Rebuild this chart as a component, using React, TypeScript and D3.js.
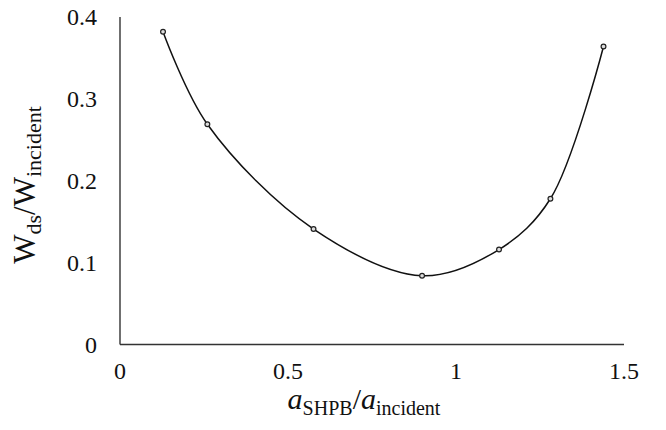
import React from "react";
import * as d3 from "d3";

// Ratio of SHPB to incident radius vs. normalized dissipated energy
const ratioValues = [0.128, 0.26, 0.576, 0.899, 1.128, 1.281, 1.439];
const energyValues = [0.382, 0.269, 0.141, 0.084, 0.116, 0.178, 0.364];
const xTicks = [0, 0.5, 1, 1.5];
const yTicks = [0, 0.1, 0.2, 0.3, 0.4];

const W = 666;
const H = 430;
const FONT = "'Times New Roman', Times, 'Liberation Serif', 'DejaVu Serif', serif";

export default function App() {
  const x = d3.scaleLinear().domain([0, 1.5]).range([120, 624]);
  const y = d3.scaleLinear().domain([0, 0.4]).range([344.5, 17]);

  const pts = ratioValues.map((v, i) => [v, energyValues[i]] as [number, number]);
  const line = d3
    .line<[number, number]>()
    .x((d) => x(d[0]))
    .y((d) => y(d[1]))
    .curve(d3.curveCatmullRom.alpha(0.5));

  return (
    <svg
      width={W}
      height={H}
      style={{ position: "absolute", left: 0, top: 0, background: "#fff", fontFamily: FONT }}
    >
      {/* axes */}
      <line x1={x(0)} x2={x(1.5)} y1={y(0)} y2={y(0)} stroke="#333" strokeWidth={1.4} />
      <line x1={x(0)} x2={x(0)} y1={y(0)} y2={y(0.4)} stroke="#333" strokeWidth={1.4} />

      {/* tick labels */}
      {xTicks.map((t) => (
        <text key={"x" + t} x={x(t)} y={379} textAnchor="middle" fontSize={24} fill="#111" fontFamily={FONT}>
          {d3.format("")(t)}
        </text>
      ))}
      {yTicks.map((t) => (
        <text
          key={"y" + t}
          x={97}
          y={y(t)}
          dy="0.35em"
          textAnchor="end"
          fontSize={24}
          fill="#111"
          fontFamily={FONT}
        >
          {d3.format("")(t)}
        </text>
      ))}

      {/* smoothed curve and markers */}
      <path d={line(pts) || ""} fill="none" stroke="#111" strokeWidth={1.5} />
      {pts.map((d, i) => (
        <circle
          key={i}
          cx={x(d[0])}
          cy={y(d[1])}
          r={2.4}
          fill="#ddd"
          stroke="#222"
          strokeWidth={1.2}
        />
      ))}

      {/* x axis title */}
      <text x={364} y={409} textAnchor="middle" fontSize={30} fill="#111" fontFamily={FONT}>
        <tspan fontStyle="italic">a</tspan>
        <tspan fontSize={20} dy={6}>SHPB</tspan>
        <tspan dy={-6}>/</tspan>
        <tspan fontStyle="italic">a</tspan>
        <tspan fontSize={20} dy={6}>incident</tspan>
      </text>

      {/* y axis title */}
      <text
        transform={`translate(35,${185}) rotate(-90)`}
        textAnchor="middle"
        fontSize={31}
        fill="#111"
        fontFamily={FONT}
      >
        <tspan>W</tspan>
        <tspan fontSize={22} dy={6}>ds</tspan>
        <tspan dy={-6}>/W</tspan>
        <tspan fontSize={22} dy={6}>incident</tspan>
      </text>
    </svg>
  );
}
